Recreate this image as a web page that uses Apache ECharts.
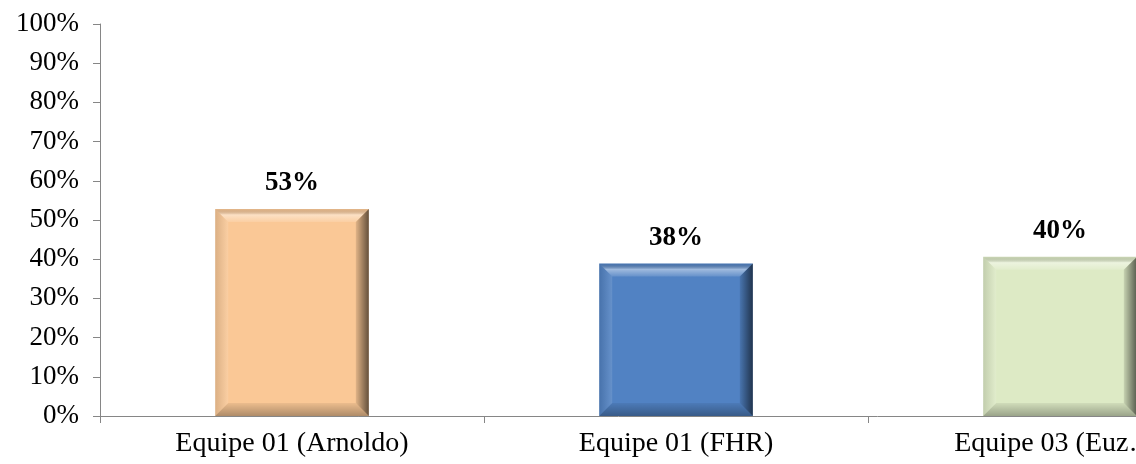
<!DOCTYPE html>
<html><head><meta charset="utf-8">
<script src="https://cdn.jsdelivr.net/npm/echarts@6/dist/echarts.min.js"></script>
<style>html,body{margin:0;padding:0;background:#fff;overflow:hidden}#c{width:1136px;height:464px}</style>
</head><body><div id="c"></div>
<script>
const categories = ['Equipe 01 (Arnoldo)', 'Equipe 01 (FHR)', 'Equipe 03 (Euz…)'];
const values = [52.8, 38.9, 40.6];
const valueLabels = ['53%', '38%', '40%'];
const barColors = ['#FAC896', '#5182C3', '#DDEAC5'];

const chart = echarts.init(document.getElementById('c'), null, {renderer: 'canvas'});
const LG = echarts.graphic.LinearGradient;
const FONT = "'Liberation Serif', 'Times New Roman', serif";

function bevel(params, api) {
  const i = api.value(0), v = api.value(1);
  const top = api.coord([i, v]);
  const base = api.coord([i, 0]);
  const bw = api.size([1, 0])[0] * 0.4;
  const x0 = top[0] - bw / 2, x1 = top[0] + bw / 2, y0 = top[1], y1 = base[1];
  const b = 13;
  return {
    type: 'group',
    children: [
      {type: 'polygon', shape: {points: [[x0, y0], [x1, y0], [x1 - b, y0 + b], [x0 + b, y0 + b]]},
        style: {fill: new LG(0, 0, 0, 1, [{offset: 0, color: 'rgba(0,0,0,0.08)'}, {offset: 0.45, color: 'rgba(255,255,255,0.45)'}, {offset: 1, color: 'rgba(255,255,255,0.12)'}])}},
      {type: 'polygon', shape: {points: [[x0, y0], [x0 + b, y0 + b], [x0 + b, y1 - b], [x0, y1]]},
        style: {fill: new LG(0, 0, 1, 0, [{offset: 0, color: 'rgba(0,0,0,0.12)'}, {offset: 1, color: 'rgba(255,255,255,0.12)'}])}},
      {type: 'polygon', shape: {points: [[x1, y0], [x1, y1], [x1 - b, y1 - b], [x1 - b, y0 + b]]},
        style: {fill: new LG(0, 0, 1, 0, [{offset: 0, color: 'rgba(0,0,0,0.1)'}, {offset: 1, color: 'rgba(0,0,0,0.6)'}])}},
      {type: 'polygon', shape: {points: [[x0, y1], [x1, y1], [x1 - b, y1 - b], [x0 + b, y1 - b]]},
        style: {fill: new LG(0, 0, 0, 1, [{offset: 0, color: 'rgba(0,0,0,0.06)'}, {offset: 1, color: 'rgba(0,0,0,0.3)'}])}}
    ]
  };
}

chart.setOption({
  animation: false,
  backgroundColor: '#fff',
  grid: {left: 100, top: 24, width: 1152, height: 392, containLabel: false, outerBoundsMode: 'none'},
  xAxis: {
    type: 'category',
    data: categories,
    axisLine: {lineStyle: {color: '#868686', width: 1}},
    axisTick: {show: true, length: 7, lineStyle: {color: '#868686'}},
    axisLabel: {interval: 0, margin: 14, color: '#000', fontFamily: FONT, fontSize: 28}
  },
  yAxis: {
    type: 'value',
    min: 0, max: 100, interval: 10,
    splitLine: {show: false},
    axisLine: {show: true, lineStyle: {color: '#868686', width: 1}},
    axisTick: {show: true, length: 7, lineStyle: {color: '#868686'}},
    axisLabel: {formatter: '{value}%', margin: 21, color: '#000', fontFamily: FONT, fontSize: 27}
  },
  series: [
    {
      type: 'bar',
      barWidth: '40%',
      data: values.map((v, i) => ({value: v, itemStyle: {color: barColors[i]}})),
      label: {
        show: true, position: 'top', distance: 12,
        formatter: p => valueLabels[p.dataIndex],
        color: '#000', fontFamily: FONT, fontWeight: 'bold', fontSize: 27
      },
      z: 2
    },
    {
      type: 'custom',
      silent: true,
      renderItem: bevel,
      data: values.map((v, i) => [i, v]),
      z: 3
    }
  ]
});
</script>
</body></html>
